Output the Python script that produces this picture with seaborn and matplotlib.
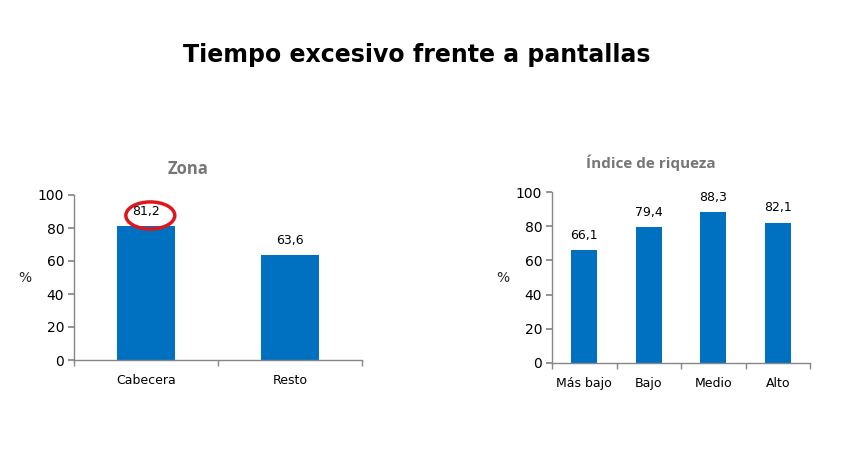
import numpy as np
import pandas as pd
import matplotlib
matplotlib.use("Agg")
import matplotlib.pyplot as plt
import seaborn as sns
from matplotlib.patches import Ellipse

# Datos
zona_cats = ["Cabecera", "Resto"]
zona_vals = [81.2, 63.6]

riqueza_cats = ["Más bajo", "Bajo", "Medio", "Alto"]
riqueza_vals = [66.1, 79.4, 88.3, 82.1]

y_ticks = [0, 20, 40, 60, 80, 100]

BAR_COLOR = "#0070C0"
AXIS_COLOR = "#868686"

sns.set_theme(style="white")
plt.rcParams["font.family"] = ["DejaVu Sans"]

fig = plt.figure(figsize=(8.54, 4.62), dpi=100)
fig.patch.set_facecolor("white")

ax1 = fig.add_axes([74 / 854, 102 / 462, 288 / 854, 165 / 462])
ax2 = fig.add_axes([552 / 854, 99 / 462, 258 / 854, 171 / 462])


def draw_panel(ax, cats, vals):
    df = pd.DataFrame({"cat": cats, "val": vals})
    sns.barplot(data=df, x="cat", y="val", color=BAR_COLOR, width=0.4,
                saturation=1, linewidth=0, ax=ax)
    n = len(cats)
    ax.set_xlim(-0.5, n - 0.5)
    ax.set_ylim(0, 100)
    ax.set_yticks(y_ticks)
    ax.set_xlabel("")
    ax.set_ylabel("")
    for s in ["top", "right"]:
        ax.spines[s].set_visible(False)
    for s in ["left", "bottom"]:
        ax.spines[s].set_color(AXIS_COLOR)
        ax.spines[s].set_linewidth(1)
    ax.set_xticks(np.arange(-0.5, n, 1.0), minor=True)
    ax.tick_params(axis="x", which="major", length=0, labelsize=9,
                   pad=10, colors="black")
    ax.tick_params(axis="x", which="minor", length=4, color=AXIS_COLOR,
                   direction="out", bottom=True)
    ax.tick_params(axis="y", length=4, color=AXIS_COLOR, direction="out",
                   left=True, labelsize=10, pad=3, labelcolor="black")
    for i, v in enumerate(vals):
        ax.annotate(f"{v:.1f}".replace(".", ","), (i, v),
                    xytext=(0, 6), textcoords="offset points",
                    ha="center", va="bottom", fontsize=9, color="black")


draw_panel(ax1, zona_cats, zona_vals)
draw_panel(ax2, riqueza_cats, riqueza_vals)

# Resaltado del valor de Cabecera
ax1.add_patch(Ellipse((0.03, 87.6), 0.34, 16.4, fill=False,
                      edgecolor="#E0161C", linewidth=2.5, clip_on=False))

fig.text(25 / 854, 1 - 278 / 462, "%", ha="center", va="center", fontsize=10)
fig.text(503 / 854, 1 - 278 / 462, "%", ha="center", va="center", fontsize=10)

fig.text(188 / 854, 1 - 169 / 462, "Zona", ha="center", va="center",
         fontsize=12, fontweight="bold", color="#767676",
         family=["Open Sans", "DejaVu Sans"])
fig.text(651 / 854, 1 - 163 / 462, "Índice de riqueza", ha="center",
         va="center", fontsize=11, fontweight="bold", color="#767676",
         family=["Open Sans", "DejaVu Sans"])

fig.text(417 / 854, 1 - 55 / 462, "Tiempo excesivo frente a pantallas",
         ha="center", va="center", fontsize=17, fontweight="bold",
         color="black")

fig.savefig("out.png", dpi=100, facecolor="white")
